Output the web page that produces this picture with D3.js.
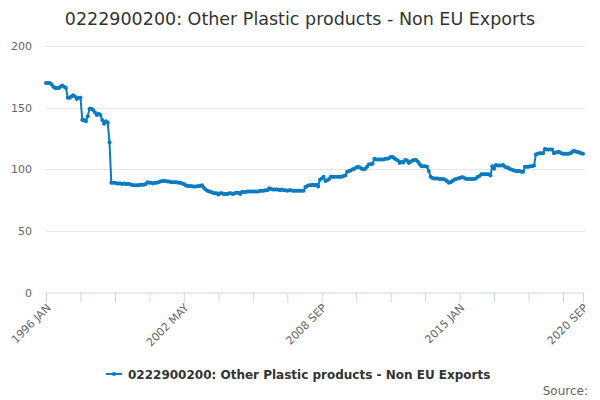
<!DOCTYPE html>
<html>
<head>
<meta charset="utf-8">
<script src="https://cdn.jsdelivr.net/npm/d3@7/dist/d3.min.js"></script>
<style>
  html, body { margin: 0; padding: 0; background: #fff; }
  svg { display: block; font-family: "DejaVu Sans", sans-serif; }
</style>
</head>
<body>
<svg id="chart" width="600" height="400"></svg>
<script>
// --- Data (monthly, 1996 JAN .. 2020 SEP) ---
const seriesName = "0222900200: Other Plastic products - Non EU Exports";
const monthNames = ["JAN", "FEB", "MAR", "APR", "MAY", "JUN", "JUL", "AUG", "SEP", "OCT", "NOV", "DEC"];
const startYear = 1996;

const values = [
    170, 170, 170, 169, 167, 166, 166, 166, 167, 168, 167, 166,           // 1996
    158, 158, 159, 160, 159, 157, 158, 158, 140, 140, 139, 143,           // 1997
    149, 149, 148, 146, 144, 145, 144, 140, 137, 139, 138, 122,           // 1998
    89, 89, 89, 88.5, 88.5, 88.5, 88, 88.5, 88, 88, 88, 87.5,             // 1999
    87, 87, 87, 87, 87.5, 87.5, 87.5, 88, 89.5, 89, 89, 88.5,             // 2000
    89, 89, 89.5, 90, 90.5, 90.5, 90.5, 90, 90, 89.5, 89.5, 89.5,         // 2001
    89.5, 89, 89, 88.5, 88, 87, 86.5, 86.5, 86.5, 86, 86, 86,             // 2002
    86.5, 86.5, 87, 85, 83.5, 82.5, 82, 81.5, 81, 80.5, 80.5, 79.5,       // 2003
    80.5, 80.5, 80, 80, 80, 80.5, 80.5, 80, 80.5, 81, 81, 80,             // 2004
    81.5, 81.5, 81.5, 82, 82, 82, 82, 82, 82, 82, 82.5, 82.5,             // 2005
    82.5, 83, 83, 84.5, 84, 83.5, 83.5, 83.5, 83.5, 83, 83.5, 83,         // 2006
    83, 82.5, 83, 83, 82.5, 82.5, 82.5, 82.5, 82.5, 82.5, 82.5, 85.5,     // 2007
    86.5, 87, 87, 87.5, 87, 87.5, 86, 91.5, 92.5, 94, 90.5, 91,           // 2008
    92, 94, 94, 94, 94, 94, 94, 94, 94.5, 95, 98, 98.5,                   // 2009
    99, 100, 100.5, 101.5, 102, 101.5, 100.5, 100, 100.5, 102, 104, 104,  // 2010
    104.5, 108.5, 108, 108, 108, 108, 108, 108.5, 108.5, 109, 110, 110,   // 2011
    109, 108, 107, 105, 106, 105.5, 107.5, 107, 105, 106, 107, 107.5,     // 2012
    107.5, 106, 104, 102.5, 102.5, 102.5, 102, 98.5, 94, 93, 92.5, 92.5,  // 2013
    92.5, 92, 92, 92, 91.5, 90.5, 89, 89.5, 90.5, 91.5, 92, 92.5,         // 2014
    93, 93.5, 93.5, 92.5, 92, 92, 92, 92, 92, 92.5, 94, 94.5,             // 2015
    96, 96, 96, 96, 96, 95, 102.5, 100.5, 103.5, 103, 103, 103,           // 2016
    103.5, 102, 101.5, 101, 100, 99.5, 99, 98.5, 98.5, 98.5, 98, 98,      // 2017
    102, 102, 102, 102.5, 102.5, 103, 112, 112.5, 113, 113, 113, 116.5,   // 2018
    116, 116, 116, 116, 113, 113.5, 114, 114, 113, 112.5, 112.5, 112.5,   // 2019
    112.5, 113, 114, 115, 114.5, 114, 113.5, 113, 112.5                   // 2020
];

const tickLabels = ["1996 JAN", "2002 MAY", "2008 SEP", "2015 JAN", "2020 SEP"];
const yTickValues = [0, 50, 100, 150, 200];
const tickEvery = 19; // months between x tick marks

// category labels, one per month
const categories = values.map((v, i) => `${startYear + Math.floor(i / 12)} ${monthNames[i % 12]}`);
// --- End Data ---

const svg = d3.select("#chart");
const lineColor = "#0b7bc1";
const plot = { left: 46, right: 583, top: 46, bottom: 292.5 };

const x = d3.scalePoint().domain(categories).range([plot.left, plot.right]);
const y = d3.scaleLinear().domain([0, 200]).range([plot.bottom, plot.top]);

// title
svg.append("text")
    .attr("x", 300).attr("y", 25)
    .attr("text-anchor", "middle")
    .attr("fill", "#333")
    .style("font-size", "17.5px")
    .text(seriesName);

// horizontal grid lines (skip 0, the axis line sits there)
svg.append("g")
    .selectAll("line")
    .data(yTickValues.filter(d => d > 0))
    .join("line")
    .attr("x1", plot.left).attr("x2", plot.right + 2)
    .attr("y1", d => Math.round(y(d)) + 0.5)
    .attr("y2", d => Math.round(y(d)) + 0.5)
    .attr("stroke", "#e6e6e6");

// y axis labels
const yAxis = svg.append("g")
    .attr("transform", `translate(${plot.left},0)`)
    .call(d3.axisLeft(y).tickValues(yTickValues).tickSize(0).tickPadding(14));
yAxis.select(".domain").remove();
yAxis.selectAll("text")
    .attr("fill", "#666")
    .style("font-size", "11px")
    .style("font-family", "DejaVu Sans, sans-serif");

// x axis
const tickCats = categories.filter((c, i) => i % tickEvery === 0 || i === categories.length - 1);
const xAxis = svg.append("g")
    .attr("transform", `translate(0,${plot.bottom})`)
    .call(d3.axisBottom(x)
        .tickValues(tickCats)
        .tickSize(10)
        .tickSizeOuter(0)
        .tickFormat(d => tickLabels.includes(d) ? d : ""));
xAxis.select(".domain").attr("stroke", "#ccd6eb");
xAxis.selectAll(".tick line").attr("stroke", "#ccd6eb");
xAxis.selectAll(".tick text")
    .attr("fill", "#666")
    .style("font-size", "11px")
    .style("font-family", "DejaVu Sans, sans-serif")
    .attr("text-anchor", "end")
    .attr("dy", null)
    .attr("y", null)
    .attr("transform", "translate(5,16) rotate(-45)");

// series line
const line = d3.line()
    .x((d, i) => x(categories[i]))
    .y(d => y(d));

svg.append("path")
    .datum(values)
    .attr("d", line)
    .attr("fill", "none")
    .attr("stroke", lineColor)
    .attr("stroke-width", 2)
    .attr("stroke-linejoin", "round");

svg.append("g")
    .selectAll("circle")
    .data(values)
    .join("circle")
    .attr("cx", (d, i) => x(categories[i]))
    .attr("cy", d => y(d))
    .attr("r", 2)
    .attr("fill", lineColor);

// legend
const legend = svg.append("g").attr("transform", "translate(106,374)");
legend.append("line")
    .attr("x1", 0).attr("x2", 16)
    .attr("stroke", lineColor).attr("stroke-width", 2);
legend.append("circle").attr("cx", 8).attr("r", 2).attr("fill", lineColor);
legend.append("text")
    .attr("x", 22).attr("y", 4.5)
    .attr("fill", "#333")
    .style("font-size", "12px")
    .style("font-weight", "bold")
    .text(seriesName);

// credits
svg.append("text")
    .attr("x", 588).attr("y", 395)
    .attr("text-anchor", "end")
    .attr("fill", "#666")
    .style("font-size", "12px")
    .text("Source:");
</script>
</body>
</html>
